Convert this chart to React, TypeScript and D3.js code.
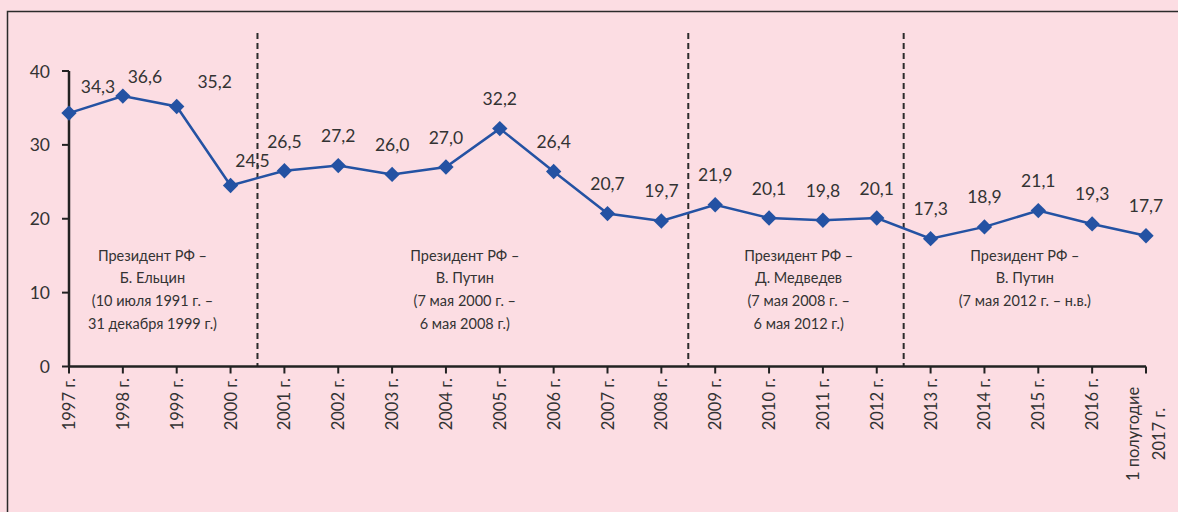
import React from "react";
import * as d3 from "d3";

const categories: string[] = [
  "1997 г.", "1998 г.", "1999 г.", "2000 г.", "2001 г.", "2002 г.", "2003 г.",
  "2004 г.", "2005 г.", "2006 г.", "2007 г.", "2008 г.", "2009 г.", "2010 г.",
  "2011 г.", "2012 г.", "2013 г.", "2014 г.", "2015 г.", "2016 г.", "1 полугодие|2017 г.",
];
const values: number[] = [
  34.3, 36.6, 35.2, 24.5, 26.5, 27.2, 26.0, 27.0, 32.2, 26.4, 20.7, 19.7,
  21.9, 20.1, 19.8, 20.1, 17.3, 18.9, 21.1, 19.3, 17.7,
];
const yTicks: number[] = [0, 10, 20, 30, 40];
// dividers placed between these category indices (after index)
const dividerAfter: number[] = [3, 11, 15];
const periods: { center: number; lines: string[] }[] = [
  { center: 1.55, lines: ["Президент РФ –", "Б. Ельцин", "(10 июля 1991 г. –", "31 декабря 1999 г.)"] },
  { center: 7.35, lines: ["Президент РФ –", "В. Путин", "(7 мая 2000 г. –", "6 мая 2008 г.)"] },
  { center: 13.55, lines: ["Президент РФ –", "Д. Медведев", "(7 мая 2008 г. –", "6 мая 2012 г.)"] },
  { center: 17.75, lines: ["Президент РФ –", "В. Путин", "(7 мая 2012 г. – н.в.)"] },
];
// label offsets (layout)
const labelDx: number[] = [29, 22, 38, 22];
const labelDy: number[] = [-27, -20, -25, -25, -29];

const W = 1178, H = 512;
const FONT = "Lato, 'Open Sans', sans-serif";
const TXT = "#333333";
const BLUE = "#2452a3";

export default function App() {
  const x = d3.scalePoint<number>().domain(d3.range(categories.length)).range([69, 1146]);
  const y = d3.scaleLinear().domain([0, 40]).range([366.5, 71]);
  const step = x.step();
  const line = d3.line<number>().x((_, i) => x(i)!).y((d) => y(d));
  const diamond = d3.symbol().type(d3.symbolDiamond2).size(150)();
  const fmt = (v: number) => v.toFixed(1).replace(".", ",");

  return (
    <svg width={W} height={H} style={{ position: "absolute", left: 0, top: 0 }} fontFamily={FONT}>
      <rect x={0} y={0} width={W} height={H} fill="#fcdde3" />
      <rect x={7.5} y={11.5} width={W + 20} height={H + 20} fill="none" stroke="#2b2b2b" strokeWidth={1.5} />

      {dividerAfter.map((i) => (
        <line key={i} x1={x(i)! + step / 2} x2={x(i)! + step / 2} y1={33} y2={y(0)}
          stroke="#2b2b2b" strokeWidth={2} strokeDasharray="6,4" />
      ))}

      {/* y axis */}
      <line x1={69} x2={69} y1={y(40)} y2={y(0)} stroke="#222" strokeWidth={2.5} />
      {yTicks.map((t) => (
        <g key={t}>
          <line x1={62} x2={69} y1={y(t)} y2={y(t)} stroke="#222" strokeWidth={2} />
          <text x={50} y={y(t)} textAnchor="end" dominantBaseline="central" fontSize={17.5} fill={TXT}>{t}</text>
        </g>
      ))}

      {/* x axis */}
      <line x1={69} x2={1146} y1={y(0)} y2={y(0)} stroke="#222" strokeWidth={2.5} />
      {categories.map((c, i) => {
        const parts = c.split("|");
        const xi = x(i)!;
        return (
          <g key={i}>
            <line x1={xi} x2={xi} y1={y(0)} y2={y(0) + 7} stroke="#222" strokeWidth={2} />
            {parts.length === 1 ? (
              <text transform={`translate(${xi},${378}) rotate(-90)`} textAnchor="end" dominantBaseline="central"
                fontSize={16.5} fill={TXT}>{c}</text>
            ) : (
              parts.map((p, k) => (
                <text key={k} transform={`translate(${xi - 13 + k * 26},${434}) rotate(-90)`} textAnchor="middle"
                  dominantBaseline="central" fontSize={16.5} fill={TXT}>{p}</text>
              ))
            )}
          </g>
        );
      })}

      {/* period annotations */}
      {periods.map((p, k) => (
        <g key={k}>
          {p.lines.map((l, j) => (
            <text key={j} x={x(0)! + p.center * step} y={255 + j * 22.7} textAnchor="middle"
              dominantBaseline="central" fontSize={14.5} fill={TXT}>{l}</text>
          ))}
        </g>
      ))}

      <path d={line(values)!} fill="none" stroke={BLUE} strokeWidth={2.5} />
      {values.map((v, i) => (
        <path key={i} d={diamond} transform={`translate(${x(i)},${y(v)})`} fill={BLUE} />
      ))}
      {values.map((v, i) => (
        <text key={i} x={x(i)! + (labelDx[i] ?? 0)} y={y(v) + (labelDy[i] ?? -30)} textAnchor="middle"
          dominantBaseline="central" fontSize={17.5} fill={TXT}>{fmt(v)}</text>
      ))}
    </svg>
  );
}
